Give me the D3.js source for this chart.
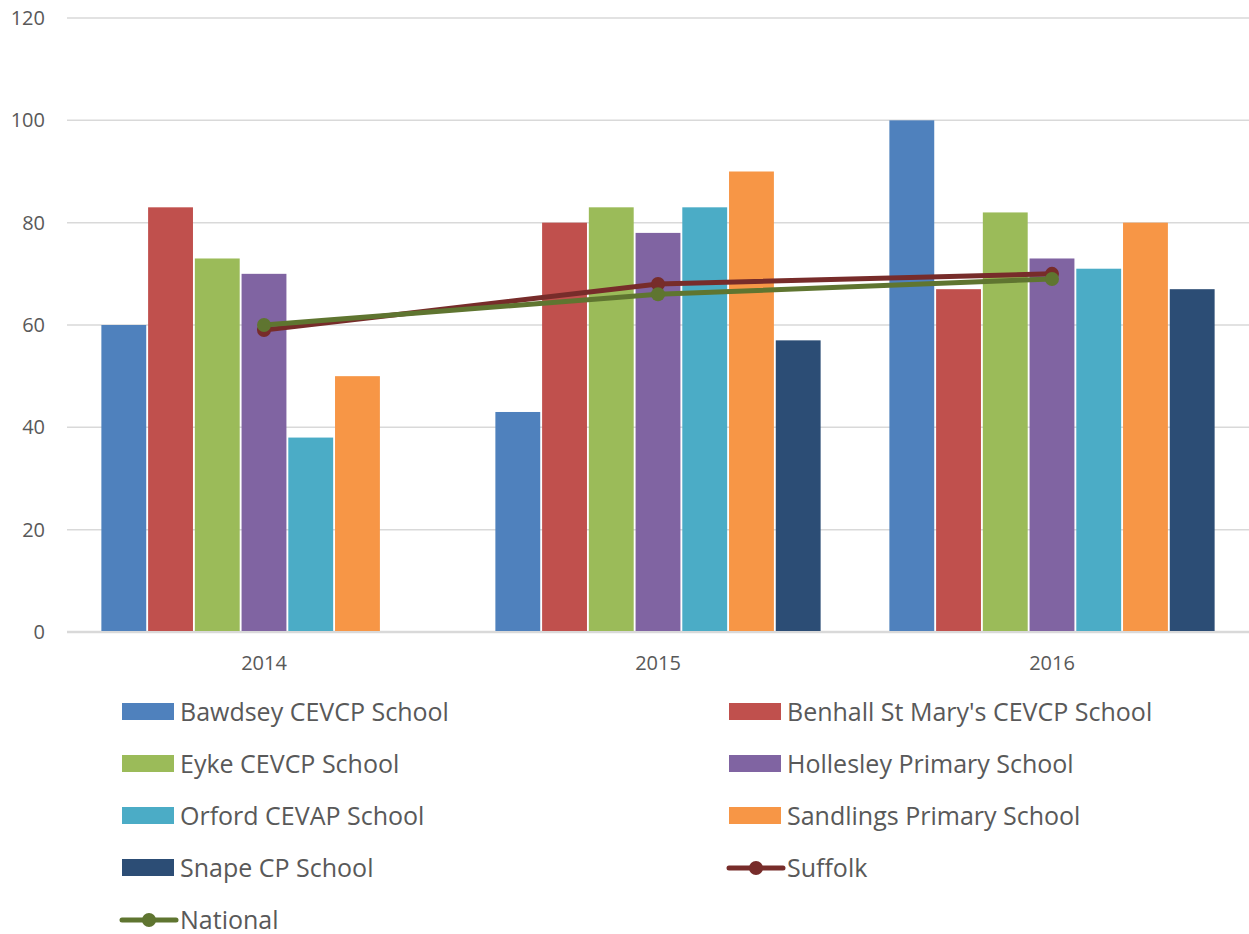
<!DOCTYPE html>
<html>
<head>
<meta charset="utf-8">
<script src="https://d3js.org/d3.v7.min.js"></script>
<style>
  body { margin: 0; background: #fff; }
  text { font-family: "Open Sans", sans-serif; fill: #595959; }
</style>
</head>
<body>
<svg id="chart" width="1249" height="934"></svg>
<script>
var years = ["2014", "2015", "2016"];
var schools = ["Bawdsey CEVCP School", "Benhall St Mary's CEVCP School", "Eyke CEVCP School",
  "Hollesley Primary School", "Orford CEVAP School", "Sandlings Primary School", "Snape CP School"];
var bawdsey   = [60, 43, 100];
var benhall   = [83, 80, 67];
var eyke      = [73, 83, 82];
var hollesley = [70, 78, 73];
var orford    = [38, 83, 71];
var sandlings = [50, 90, 80];
var snape     = [null, 57, 67];
var suffolk   = [59, 68, 70];
var national  = [60, 66, 69];
var yTicks = [0, 20, 40, 60, 80, 100, 120];

var barColors = ["#4f81bd", "#c0504d", "#9bbb59", "#8064a2", "#4bacc6", "#f79646", "#2c4d75"];
var seriesVals = [bawdsey, benhall, eyke, hollesley, orford, sandlings, snape];
var lines = [
  { name: "Suffolk", values: suffolk, color: "#772c2a" },
  { name: "National", values: national, color: "#5f7530" }
];

var svg = d3.select("#chart");
var plotLeft = 67, plotRight = 1249, plotTop = 18, plotBottom = 632;

var x0 = d3.scaleBand().domain(years).range([plotLeft, plotRight])
  .paddingInner(0.165).paddingOuter(0.0825);
var x1 = d3.scaleBand().domain(d3.range(schools.length)).range([0, x0.bandwidth()]).padding(0.04);
var y = d3.scaleLinear().domain([0, 120]).range([plotBottom, plotTop]);

// gridlines
svg.append("g").selectAll("line").data(yTicks).enter().append("line")
  .attr("x1", plotLeft).attr("x2", plotRight)
  .attr("y1", function(d) { return y(d); }).attr("y2", function(d) { return y(d); })
  .attr("stroke", "#d9d9d9")
  .attr("stroke-width", function(d) { return d === 0 ? 2.5 : 1.5; });

// y labels
svg.append("g").selectAll("text").data(yTicks).enter().append("text")
  .attr("x", 45).attr("y", function(d) { return y(d) + 7; })
  .attr("text-anchor", "end").attr("font-size", 20)
  .text(function(d) { return d; });

// x labels
svg.append("g").selectAll("text").data(years).enter().append("text")
  .attr("x", function(d) { return x0(d) + x0.bandwidth() / 2; })
  .attr("y", 670).attr("text-anchor", "middle").attr("font-size", 20)
  .text(function(d) { return d; });

// bars
var groups = svg.append("g").selectAll("g").data(years).enter().append("g")
  .attr("transform", function(d) { return "translate(" + x0(d) + ",0)"; });
groups.selectAll("rect")
  .data(function(d, i) {
    return seriesVals.map(function(s, k) { return { k: k, v: s[i] }; })
      .filter(function(e) { return e.v != null; });
  })
  .enter().append("rect")
  .attr("x", function(d) { return x1(d.k); })
  .attr("width", x1.bandwidth())
  .attr("y", function(d) { return y(d.v); })
  .attr("height", function(d) { return y(0) - y(d.v) - 1; })
  .attr("fill", function(d) { return barColors[d.k]; });

// lines
var lineGen = d3.line()
  .x(function(d, i) { return x0(years[i]) + x0.bandwidth() / 2; })
  .y(function(d) { return y(d); });
lines.forEach(function(l) {
  svg.append("path").datum(l.values)
    .attr("d", lineGen).attr("fill", "none")
    .attr("stroke", l.color).attr("stroke-width", 5).attr("stroke-linecap", "round");
  svg.append("g").selectAll("circle").data(l.values).enter().append("circle")
    .attr("cx", function(d, i) { return x0(years[i]) + x0.bandwidth() / 2; })
    .attr("cy", function(d) { return y(d); })
    .attr("r", 7).attr("fill", l.color);
});

// legend
var legendItems = schools.map(function(s, i) { return { name: s, type: "bar", color: barColors[i] }; })
  .concat(lines.map(function(l) { return { name: l.name, type: "line", color: l.color }; }));
var leg = svg.append("g").selectAll("g").data(legendItems).enter().append("g")
  .attr("transform", function(d, i) {
    var col = i % 2, row = Math.floor(i / 2);
    return "translate(" + (col ? 729 : 122) + "," + (712 + row * 52) + ")";
  });
leg.each(function(d) {
  var g = d3.select(this);
  if (d.type === "bar") {
    g.append("rect").attr("x", 0).attr("y", -9).attr("width", 52).attr("height", 17).attr("fill", d.color);
  } else {
    g.append("line").attr("x1", 0).attr("x2", 54).attr("y1", 0).attr("y2", 0)
      .attr("stroke", d.color).attr("stroke-width", 5).attr("stroke-linecap", "round");
    g.append("circle").attr("cx", 27).attr("cy", 0).attr("r", 7).attr("fill", d.color);
  }
  g.append("text").attr("x", 58).attr("y", 9).attr("font-size", 25).text(d.name);
});
</script>
</body>
</html>
